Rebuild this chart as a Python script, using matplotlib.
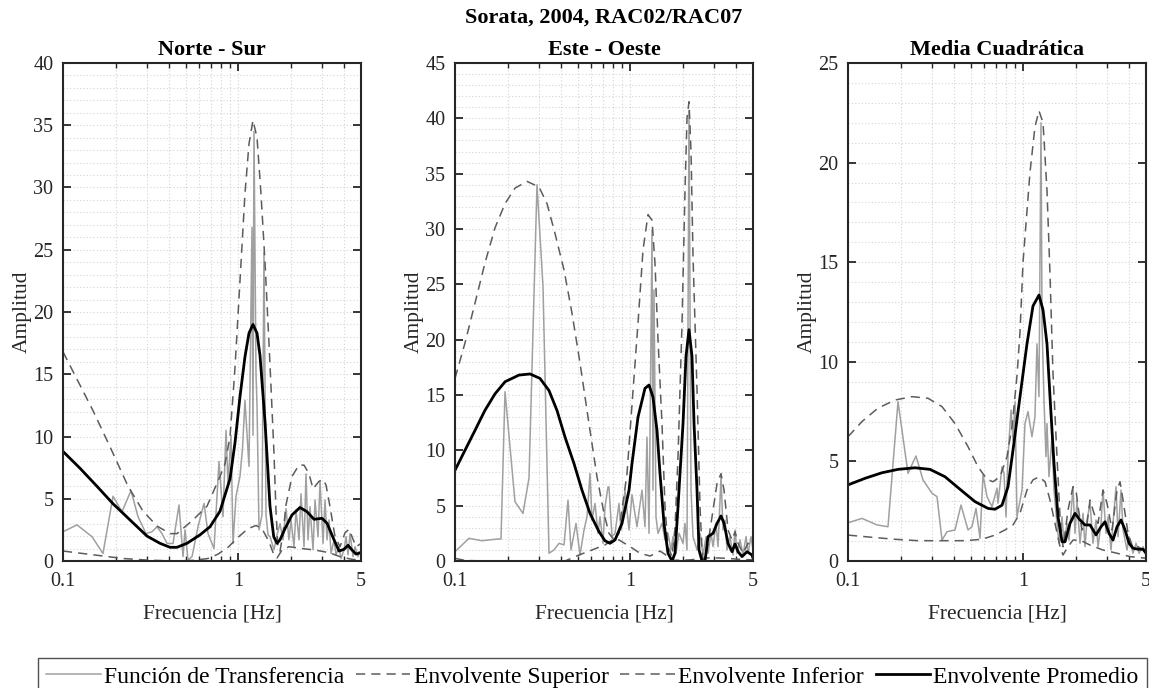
import matplotlib
matplotlib.use('Agg')
import matplotlib.pyplot as plt
from matplotlib.ticker import FixedLocator, FixedFormatter, MultipleLocator, NullFormatter

plt.rcParams['font.family'] = ['Liberation Serif', 'DejaVu Serif']

# ---------------- data ----------------
suptitle = 'Sorata, 2004, RAC02/RAC07'
panel_titles = ['Norte - Sur', 'Este - Oeste', 'Media Cuadrática']
legend_labels = ['Función de Transferencia', 'Envolvente Superior',
                 'Envolvente Inferior', 'Envolvente Promedio']
x_ticks = [0.1, 1, 5]
x_tick_labels = ['0.1', '1', '5']
y_max = [40, 45, 25]

# Norte - Sur
ns_tf_f = [0.100, 0.1202, 0.1464, 0.169, 0.1928, 0.2169, 0.2441, 0.2677, 0.2973, 0.3217,
           0.3435, 0.3668, 0.3917, 0.4238, 0.4585, 0.4833, 0.4962, 0.516, 0.5439, 0.5884,
           0.6367, 0.671, 0.726, 0.7752, 0.817, 0.8499, 0.8725, 0.9076, 0.9316, 0.969,
           1.021, 1.055, 1.090, 1.149, 1.195, 1.211, 1.227, 1.260, 1.277, 1.311,
           1.363, 1.399, 1.437, 1.475, 1.514, 1.596, 1.660, 1.727, 1.796, 1.868,
           1.943, 1.995, 2.075, 2.130, 2.216, 2.275, 2.367, 2.429, 2.494, 2.560,
           2.664, 2.735, 2.844, 2.920, 3.037, 3.118, 3.201, 3.286, 3.373, 3.510,
           3.603, 3.748, 3.848, 4.002, 4.109, 4.218, 4.330, 4.504, 4.624, 4.810,
           4.873, 5.0]
ns_tf_a = [2.35, 2.9, 1.95, 0.6, 5.2, 3.96, 5.65, 3.56, 2.2, 2.35,
           2.75, 2.2, 1.42, 1.4, 4.5, 0.35, 2.5, 0.08, 0.35, 2.75,
           4.63, 2.2, 1.0, 8.0, 3.56, 10.5, 6.2, 10.1, 1.4, 5.2,
           6.8, 9.0, 12.9, 7.6, 26.8, 10.1, 34.5, 15.0, 12.5, 2.5,
           3.7, 24.8, 3.7, 2.1, 1.95, 0.9, 2.1, 3.0, 1.7, 4.2,
           1.7, 3.3, 1.15, 4.1, 1.7, 5.4, 1.15, 7.0, 1.7, 4.36,
           0.9, 4.9, 1.95, 6.4, 1.42, 4.9, 1.7, 3.3, 0.6, 1.7,
           0.5, 1.15, 0.2, 0.9, 1.95, 0.5, 2.2, 0.35, 1.15, 0.35,
           0.75, 0.5]
ns_sup_f = [0.100, 0.148, 0.185, 0.235, 0.286, 0.344, 0.408, 0.447, 0.551, 0.662,
            0.786, 0.839, 0.896, 0.956, 1.021, 1.090, 1.149, 1.211, 1.277, 1.345,
            1.418, 1.494, 1.534, 1.596, 1.638, 1.682, 1.727, 1.796, 1.868, 2.021,
            2.216, 2.367, 2.527, 2.664, 2.882, 3.037, 3.159, 3.329, 3.556, 3.797,
            4.055, 4.274, 4.445, 4.685, 5.0]
ns_sup_a = [16.8, 12.1, 9.2, 6.0, 4.0, 2.8, 2.2, 2.2, 3.3, 4.4,
            6.8, 7.8, 10.0, 15.5, 22.5, 29.5, 33.5, 35.4, 34.0, 29.5,
            24.0, 17.5, 14.0, 8.6, 4.0, 1.0, 0.8, 2.2, 4.5, 6.8,
            7.7, 7.7, 7.0, 5.8, 6.4, 6.56, 6.1, 4.36, 1.95, 1.15,
            2.27, 2.55, 1.95, 1.15, 1.4]
ns_inf_f = [0.100, 0.130, 0.169, 0.220, 0.305, 0.424, 0.551, 0.671, 0.765, 0.873,
            0.995, 1.134, 1.260, 1.363, 1.494, 1.596, 1.660, 1.773, 1.943, 2.306,
            2.735, 3.286, 3.797, 4.445, 5.0]
ns_inf_a = [0.8, 0.6, 0.4, 0.2, 0.07, 0.0, 0.05, 0.2, 0.55, 1.1,
            1.9, 2.6, 2.85, 2.6, 1.55, 0.48, 0.24, 0.88, 1.15, 1.0,
            0.88, 0.67, 0.35, 0.13, 0.08]
ns_avg_f = [0.100, 0.125, 0.1562, 0.1928, 0.2409, 0.3012, 0.3573, 0.4075, 0.4466, 0.5093,
            0.6040, 0.6889, 0.7855, 0.8957, 0.9564, 1.021, 1.090, 1.149, 1.211, 1.277,
            1.328, 1.418, 1.514, 1.590, 1.660, 1.727, 1.844, 2.021, 2.245, 2.461,
            2.699, 2.997, 3.201, 3.510, 3.748, 4.002, 4.218, 4.445, 4.685, 5.0]
ns_avg_a = [8.8, 7.45, 6.0, 4.6, 3.3, 2.0, 1.42, 1.1, 1.1, 1.42,
            2.1, 2.75, 4.0, 6.6, 9.5, 13.2, 16.4, 18.3, 19.0, 18.3,
            16.5, 11.2, 4.4, 1.95, 1.42, 1.7, 2.6, 3.7, 4.3, 3.96,
            3.35, 3.43, 3.03, 1.7, 0.8, 0.94, 1.26, 0.88, 0.56, 0.67]

# Este - Oeste
eo_tf_f = [0.100, 0.1202, 0.1425, 0.169, 0.1829, 0.1928, 0.2198, 0.2441, 0.2642, 0.2934,
           0.3175, 0.3435, 0.3668, 0.3917, 0.4183, 0.4408, 0.4585, 0.4897, 0.516, 0.5439,
           0.5658, 0.5884, 0.604, 0.6284, 0.6537, 0.671, 0.698, 0.7165, 0.7453, 0.7551,
           0.7855, 0.817, 0.8611, 0.884, 0.9316, 0.9819, 1.021, 1.090, 1.164, 1.211,
           1.243, 1.277, 1.328, 1.345, 1.363, 1.399, 1.437, 1.514, 1.575, 1.638,
           1.704, 1.749, 1.820, 1.893, 1.995, 2.048, 2.102, 2.158, 2.216, 2.275,
           2.398, 2.494, 2.594, 2.699, 2.771, 2.882, 2.958, 3.077, 3.159, 3.286,
           3.373, 3.464, 3.556, 3.699, 3.848, 3.950, 4.055, 4.218, 4.388, 4.564,
           4.685, 4.873, 5.0]
eo_tf_a = [0.84, 2.05, 1.83, 1.96, 2.0, 15.3, 5.36, 4.3, 7.5, 34.0,
           24.8, 0.7, 1.0, 1.6, 1.45, 5.5, 1.0, 3.4, 0.54, 2.8,
           4.0, 7.9, 3.7, 5.2, 2.5, 4.0, 1.6, 4.9, 6.7, 6.7,
           2.2, 2.5, 5.2, 2.8, 6.4, 2.8, 6.0, 3.1, 6.4, 3.1,
           11.2, 2.5, 29.9, 6.4, 24.5, 4.0, 2.5, 3.4, 1.9, 2.5,
           1.0, 2.2, 0.7, 2.5, 1.6, 3.4, 1.0, 40.7, 6.4, 2.2,
           1.0, 2.5, 0.54, 2.2, 0.7, 2.5, 1.3, 3.4, 1.3, 7.6,
           2.8, 3.7, 1.0, 2.2, 0.54, 2.8, 0.7, 1.9, 0.54, 2.2,
           0.7, 2.2, 1.0]
eo_sup_f = [0.100, 0.114, 0.130, 0.148, 0.169, 0.193, 0.220, 0.2574, 0.3012, 0.3346,
            0.3717, 0.4183, 0.4645, 0.516, 0.5807, 0.6451, 0.7072, 0.7551, 0.8064, 0.8611,
            0.8725, 0.9564, 1.035, 1.105, 1.180, 1.260, 1.328, 1.381, 1.437, 1.514,
            1.575, 1.638, 1.727, 1.796, 1.868, 1.969, 2.048, 2.102, 2.158, 2.216,
            2.275, 2.398, 2.494, 2.560, 2.594, 2.735, 2.920, 3.118, 3.286, 3.419,
            3.603, 3.797, 3.950, 4.109, 4.388, 4.685, 4.938, 5.0]
eo_sup_a = [16.5, 19.7, 23.3, 26.9, 30.1, 32.3, 33.7, 34.3, 33.8, 32.3,
            29.6, 26.3, 22.4, 17.9, 12.4, 7.6, 4.3, 2.5, 1.9, 2.5,
            3.4, 7.9, 15.4, 21.5, 28.1, 31.3, 30.8, 26.9, 20.0, 12.4,
            4.9, 1.3, 0.4, 3.0, 9.4, 21.5, 33.5, 40.0, 41.5, 37.0,
            27.5, 15.4, 4.9, 1.0, 0.1, 1.0, 4.0, 7.0, 7.9, 6.4,
            2.8, 1.9, 2.65, 1.6, 0.7, 1.6, 1.45, 1.2]
eo_inf_f = [0.100, 0.114, 0.148, 0.4238, 0.5093, 0.604, 0.7165, 0.7958, 0.8611, 0.995,
            1.134, 1.294, 1.475, 1.575, 1.704, 2.187, 2.844, 3.464, 4.218, 5.0]
eo_inf_a = [0.24, 0.05, 0.0, 0.0, 0.54, 1.0, 1.45, 1.96, 1.9, 1.3,
            0.7, 0.45, 0.9, 0.6, 0.05, 0.1, 0.3, 0.25, 0.15, 0.1]
eo_avg_f = [0.100, 0.114, 0.130, 0.148, 0.169, 0.193, 0.2316, 0.2677, 0.3052, 0.3435,
            0.3816, 0.4238, 0.477, 0.5297, 0.5884, 0.6623, 0.7165, 0.7651, 0.817, 0.8957,
            0.9819, 1.021, 1.105, 1.211, 1.277, 1.345, 1.418, 1.475, 1.554, 1.638,
            1.727, 1.796, 1.868, 1.995, 2.075, 2.158, 2.245, 2.306, 2.398, 2.461,
            2.560, 2.664, 2.771, 2.958, 3.118, 3.286, 3.419, 3.603, 3.797, 3.950,
            4.109, 4.330, 4.624, 4.938, 5.0]
eo_avg_a = [8.2, 10.0, 11.8, 13.6, 15.1, 16.2, 16.8, 16.9, 16.5, 15.4,
            13.6, 11.2, 8.8, 6.4, 4.3, 2.65, 1.83, 1.6, 1.9, 3.4,
            6.4, 8.8, 13.0, 15.6, 15.9, 14.8, 11.8, 7.9, 3.4, 0.7,
            0.0, 0.7, 4.9, 12.4, 18.5, 20.9, 18.5, 12.4, 6.4, 1.0,
            0.0, 0.0, 2.2, 2.5, 3.4, 4.07, 3.4, 1.6, 0.84, 1.54,
            0.84, 0.4, 0.84, 0.54, 0.27]

# Media Cuadratica
mc_tf_f = [0.100, 0.1202, 0.1464, 0.169, 0.1928, 0.2198, 0.2441, 0.2677, 0.3012, 0.3217,
           0.3435, 0.3668, 0.4075, 0.4408, 0.4833, 0.5093, 0.5367, 0.5658, 0.5884, 0.6202,
           0.6623, 0.7072, 0.7165, 0.7551, 0.7752, 0.7958, 0.817, 0.8499, 0.8725, 0.8957,
           0.9194, 0.9819, 1.021, 1.062, 1.119, 1.164, 1.195, 1.227, 1.260, 1.277,
           1.311, 1.345, 1.363, 1.399, 1.456, 1.494, 1.554, 1.596, 1.660, 1.704,
           1.773, 1.820, 1.918, 1.969, 2.021, 2.102, 2.187, 2.245, 2.306, 2.398,
           2.494, 2.594, 2.664, 2.771, 2.844, 2.958, 3.037, 3.159, 3.243, 3.373,
           3.464, 3.603, 3.699, 3.897, 4.002, 4.218, 4.388, 4.564, 4.810, 5.0]
mc_tf_a = [1.92, 2.14, 1.81, 1.72, 8.0, 4.4, 5.27, 4.07, 3.4, 3.23,
           1.05, 1.47, 1.56, 2.81, 1.56, 1.72, 2.64, 1.14, 4.32, 3.23,
           2.73, 3.65, 2.9, 4.73, 4.4, 2.22, 5.24, 7.58, 6.07, 8.0,
           2.22, 3.56, 6.9, 7.5, 6.24, 7.24, 10.9, 8.25, 22.0, 11.9,
           8.0, 5.24, 6.9, 4.23, 6.24, 3.56, 1.89, 0.89, 2.22, 0.89,
           1.89, 1.05, 3.73, 1.39, 3.06, 0.89, 2.39, 0.72, 2.06, 2.9,
           0.89, 2.06, 0.72, 1.89, 3.56, 1.39, 2.22, 0.55, 1.89, 3.73,
           1.22, 3.56, 1.56, 0.55, 1.22, 0.39, 0.89, 0.39, 0.72, 0.3]
mc_sup_f = [0.100, 0.1202, 0.148, 0.1853, 0.2316, 0.2858, 0.3435, 0.4075, 0.4833, 0.5511,
            0.6202, 0.671, 0.7356, 0.8064, 0.8611, 0.9194, 0.9564, 0.995, 1.090, 1.164,
            1.227, 1.294, 1.363, 1.418, 1.475, 1.554, 1.617, 1.682, 1.727, 1.796,
            1.918, 1.995, 2.048, 2.158, 2.306, 2.398, 2.527, 2.664, 2.844, 2.997,
            3.201, 3.419, 3.556, 3.699, 3.950, 4.218, 4.504, 4.810, 5.0]
mc_sup_a = [6.24, 7.0, 7.67, 8.08, 8.25, 8.17, 7.75, 6.9, 5.74, 4.73,
            4.1, 3.98, 4.23, 5.24, 6.74, 9.3, 11.5, 15.0, 19.5, 21.8,
            22.6, 22.0, 18.6, 14.4, 9.4, 5.24, 2.22, 0.72, 1.39, 2.56,
            3.73, 3.56, 2.73, 1.56, 1.89, 3.06, 2.39, 1.89, 3.56, 2.9,
            1.56, 3.56, 3.98, 3.06, 1.39, 0.64, 0.72, 0.55, 0.39]
mc_inf_f = [0.100, 0.137, 0.1853, 0.2507, 0.3573, 0.4645, 0.5807, 0.6889, 0.7855, 0.8725,
            0.9564, 1.048, 1.134, 1.227, 1.328, 1.418, 1.514, 1.617, 1.682, 1.796,
            1.918, 2.102, 2.398, 2.844, 3.419, 4.055, 5.0]
mc_inf_a = [1.3, 1.19, 1.09, 1.02, 1.02, 1.02, 1.09, 1.3, 1.56, 1.81,
            2.4, 3.56, 4.07, 4.23, 3.98, 3.06, 1.89, 0.72, 0.3, 0.72,
            1.05, 1.05, 0.8, 0.55, 0.39, 0.22, 0.14]
mc_avg_f = [0.100, 0.125, 0.1562, 0.1928, 0.2409, 0.2934, 0.3573, 0.4351, 0.5297, 0.6284,
            0.6889, 0.7551, 0.817, 0.8725, 0.9564, 1.048, 1.134, 1.227, 1.294, 1.363,
            1.418, 1.494, 1.575, 1.660, 1.727, 1.844, 1.969, 2.102, 2.245, 2.398,
            2.594, 2.771, 2.920, 3.077, 3.243, 3.419, 3.603, 3.797, 4.002, 4.218,
            4.504, 4.810, 5.0]
mc_avg_a = [3.82, 4.15, 4.43, 4.6, 4.68, 4.6, 4.23, 3.6, 2.98, 2.64,
            2.6, 2.8, 3.73, 5.57, 8.25, 10.9, 12.8, 13.35, 12.6, 10.9,
            8.25, 4.9, 2.22, 0.97, 0.97, 1.89, 2.39, 2.06, 1.81, 1.81,
            1.31, 1.72, 1.97, 1.39, 1.05, 1.72, 2.06, 1.56, 0.89, 0.64,
            0.59, 0.59, 0.39]

panel_data = [
    (ns_tf_f, ns_tf_a, ns_sup_f, ns_sup_a, ns_inf_f, ns_inf_a, ns_avg_f, ns_avg_a),
    (eo_tf_f, eo_tf_a, eo_sup_f, eo_sup_a, eo_inf_f, eo_inf_a, eo_avg_f, eo_avg_a),
    (mc_tf_f, mc_tf_a, mc_sup_f, mc_sup_a, mc_inf_f, mc_inf_a, mc_avg_f, mc_avg_a),
]

# ---------------- figure ----------------
W, H = 1149, 688
fig = plt.figure(figsize=(W / 100, H / 100), dpi=100)

ax_lefts = [63, 455, 848]   # pixel position of each axes
ax_w, ax_top, ax_bot = 298, 63, 561
dark = '#262626'

handles = None
for i, left in enumerate(ax_lefts):
    ax = fig.add_axes([left / W, 1 - ax_bot / H, ax_w / W, (ax_bot - ax_top) / H])
    tf_f, tf_a, sup_f, sup_a, inf_f, inf_a, avg_f, avg_a = panel_data[i]

    l1, = ax.plot(tf_f, tf_a, color='#a0a0a0', lw=1.1)
    l2, = ax.plot(sup_f, sup_a, color='#5c5c5c', lw=1.1, ls=(0, (6, 4)))
    l3, = ax.plot(inf_f, inf_a, color='#5c5c5c', lw=1.1, ls=(0, (6, 4)))
    l4, = ax.plot(avg_f, avg_a, color='black', lw=2.0)
    handles = [l1, l2, l3, l4]

    ax.set_xscale('log')
    ax.set_xlim(0.1, 5)
    ax.set_ylim(0, y_max[i])

    ax.xaxis.set_major_locator(FixedLocator(x_ticks))
    ax.xaxis.set_major_formatter(FixedFormatter(x_tick_labels))
    ax.xaxis.set_minor_locator(FixedLocator([0.2, 0.3, 0.4, 0.5, 0.6, 0.7, 0.8, 0.9, 2, 3, 4]))
    ax.xaxis.set_minor_formatter(NullFormatter())
    ax.yaxis.set_major_locator(MultipleLocator(5))
    ax.yaxis.set_minor_locator(MultipleLocator(1))

    ax.grid(which='both', ls=(0, (1, 2)), color='#d4d4d4', lw=0.8)
    ax.set_axisbelow(True)
    ax.tick_params(which='both', direction='in', top=True, right=True,
                   labelsize=14.5, color=dark, labelcolor=dark)
    ax.tick_params(which='major', length=6, width=1.3)
    ax.tick_params(axis='x', which='major', pad=8)
    ax.tick_params(axis='y', which='major', pad=7)
    ax.tick_params(axis='x', which='minor', length=3.5, width=1.0)
    ax.tick_params(axis='y', which='minor', length=0)
    for s in ax.spines.values():
        s.set_linewidth(1.5)
        s.set_color(dark)

    ax.set_title(panel_titles[i], fontsize=16, fontweight='bold', pad=6)
    ax.set_xlabel('Frecuencia [Hz]', fontsize=15.5, color=dark, labelpad=10)
    ax.set_ylabel('Amplitud', fontsize=15.5, color=dark, labelpad=1)

fig.text(604 / W, 1 - 18 / H, suptitle, ha='center', va='center',
         fontsize=16, fontweight='bold')

leg = fig.legend(handles, legend_labels, loc='lower left',
                 bbox_to_anchor=(38 / W, -8 / H, 1109 / W, 40 / H), mode='expand',
                 ncol=4, fontsize=17, frameon=True, fancybox=False,
                 edgecolor=dark, handlelength=2.3, handletextpad=0.15,
                 columnspacing=0.4, borderaxespad=0, borderpad=0.35)
leg.get_frame().set_linewidth(1.0)

fig.savefig('out.png', dpi=100)
